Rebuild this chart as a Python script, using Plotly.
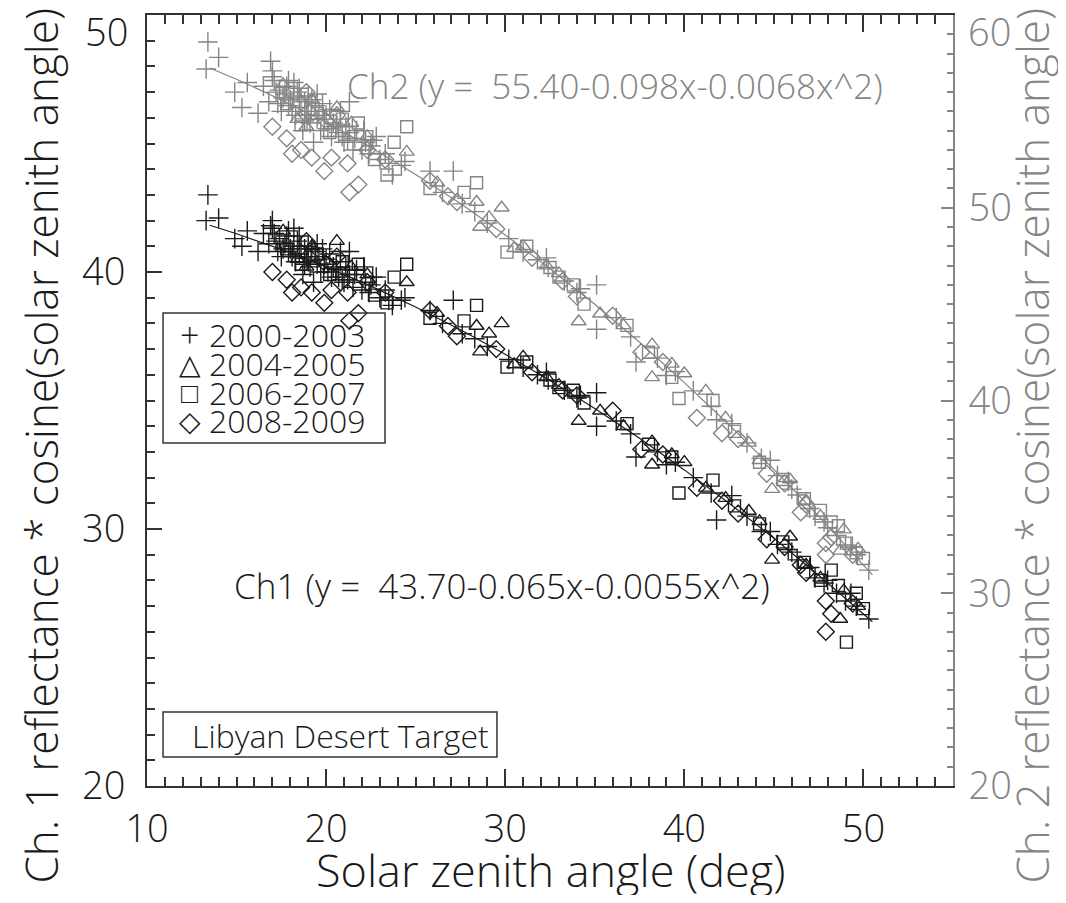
import plotly.graph_objects as go

# ---------------- data ----------------
groups = ["2000-2003", "2004-2005", "2006-2007", "2008-2009"]

# 2000-2003 (+)
A_x = [13.4, 13.3, 14.0, 14.9, 15.6, 15.3, 16.2, 16.5, 17.0, 17.2,
       17.5, 17.8, 18.0, 18.3, 18.6, 18.9, 19.1, 19.4, 19.7, 20.0,
       20.3, 20.6, 21.0, 21.3, 21.3, 22.0, 22.5, 23.0, 24.2, 24.4,
       25.8, 27.1, 26.5, 27.6, 28.3, 29.0, 30.2, 31.0, 31.8, 32.4,
       32.3, 33.3, 34.2, 35.1, 35.1, 36.2, 37.0, 37.3, 38.5, 39.5,
       40.5, 41.5, 42.65, 41.8, 43.5, 44.3, 45.2, 45.8, 46.3, 47.0,
       47.8, 48.5, 49.0, 49.6, 50.3, 48.0, 46.0, 17.0, 16.8, 18.2,
       19.8, 21.5, 22.8, 20.8, 19.3, 23.7, 34.0, 39.0, 44.8, 47.3,
       49.3, 17.4, 17.9, 18.4, 18.8, 19.6, 20.1, 20.9, 21.6, 22.2,
       19.0, 17.6, 18.7, 17.1, 17.3, 17.7, 17.9, 18.1, 18.2, 18.5,
       18.5, 18.8, 19.0, 19.2, 19.5, 19.5, 19.9, 20.2, 20.4, 20.7,
       20.8, 21.1, 21.2, 21.7, 22.1, 22.4, 22.6, 23.3, 23.5, 16.9]
A_ch1 = [43.0, 42.0, 42.1, 41.3, 41.6, 41.0, 40.8, 41.5, 41.7, 41.2,
         40.6, 41.4, 40.9, 40.4, 41.0, 40.6, 40.2, 40.8, 40.0, 40.5,
         39.8, 40.1, 39.6, 39.9, 40.8, 39.3, 39.5, 39.0, 38.9, 39.0,
         38.5, 38.9, 38.0, 37.6, 37.4, 37.1, 36.6, 36.3, 36.0, 35.8,
         36.1, 35.4, 35.2, 35.3, 34.0, 34.2, 33.7, 32.8, 33.0, 32.6,
         32.0, 31.4, 31.3, 30.35, 30.5, 29.9, 29.4, 29.2, 28.8, 28.5,
         27.9, 27.5, 27.2, 27.0, 26.5, 28.0, 29.1, 42.0, 41.1, 41.7,
         40.9, 39.4, 39.8, 40.4, 39.6, 38.7, 35.1, 32.5, 29.9, 28.1,
         27.5, 41.3, 40.8, 41.2, 40.3, 40.6, 40.0, 39.7, 39.9, 39.6,
         41.0, 40.9, 39.9, 41.5, 40.8, 41.1, 41.6, 40.6, 41.0, 40.7,
         41.4, 40.9, 40.4, 40.9, 40.3, 41.1, 40.3, 40.7, 40.2, 39.8,
         40.8, 40.2, 39.7, 40.1, 40.2, 39.2, 39.8, 39.3, 38.9, 41.8]
A_ch2 = [58.6, 57.2, 57.8, 56.0, 56.5, 55.2, 54.9, 56.3, 56.8, 56.0,
         55.0, 56.3, 55.6, 54.8, 55.7, 55.0, 54.4, 55.3, 54.0, 54.8,
         53.7, 54.3, 53.4, 53.9, 55.5, 53.0, 53.2, 52.5, 52.2, 52.4,
         51.9, 51.9, 50.8, 50.2, 49.8, 49.2, 48.4, 47.7, 47.3, 46.9,
         47.4, 46.2, 45.8, 46.0, 43.7, 44.3, 43.3, 42.0, 42.2, 41.5,
         40.5, 39.7, 38.8, 39.0, 37.8, 37.0, 36.1, 35.8, 35.1, 34.4,
         33.7, 33.0, 32.5, 32.0, 31.2, 33.4, 35.4, 57.1, 55.5, 56.5,
         55.4, 53.0, 53.7, 54.6, 53.4, 51.7, 45.6, 41.3, 36.9, 34.0,
         32.4, 56.1, 55.3, 56.0, 54.5, 55.0, 54.1, 53.7, 53.6, 53.4,
         55.8, 55.7, 54.0, 56.6, 55.4, 55.9, 56.6, 55.0, 55.8, 55.2,
         56.2, 55.5, 54.8, 55.6, 54.6, 55.9, 54.6, 55.1, 54.4, 53.9,
         55.0, 54.2, 53.5, 54.0, 54.0, 52.8, 53.5, 52.8, 52.3, 57.6]

# 2004-2005 (triangles)
B_x = [17.6, 18.4, 19.2, 20.6, 21.4, 22.3, 24.5, 26.2, 28.4, 29.1,
       29.8, 28.6, 31.0, 32.3, 33.0, 34.1, 35.3, 36.6, 38.2, 38.2,
       40.0, 41.2, 42.3, 43.6, 44.9, 45.9, 46.8, 47.6, 48.7, 48.9,
       49.7, 39.3, 44.2, 18.9, 30.5]
B_ch1 = [41.6, 40.5, 41.0, 41.2, 40.2, 39.9, 39.6, 38.4, 37.9, 37.6,
         38.0, 36.9, 36.7, 35.9, 35.6, 34.2, 34.6, 34.0, 33.4, 32.5,
         32.6, 31.6, 31.2, 30.7, 28.8, 29.7, 28.6, 28.1, 26.5, 27.6,
         27.0, 32.9, 30.3, 40.2, 36.4]
B_ch2 = [56.4, 54.6, 55.6, 55.2, 54.4, 53.7, 52.9, 51.3, 50.3, 49.5,
         50.0, 49.0, 48.0, 47.0, 46.6, 44.1, 44.5, 43.9, 42.9, 41.2,
         41.4, 40.5, 39.1, 37.8, 35.4, 35.9, 34.8, 34.0, 32.2, 33.3,
         32.3, 41.9, 36.9, 54.2, 47.9]

# 2006-2007 (squares)
C_x = [17.8, 18.6, 19.5, 20.2, 20.9, 21.8, 22.7, 23.4, 23.8, 24.5,
       25.8, 27.7, 28.4, 30.1, 31.2, 32.5, 33.0, 33.8, 34.4, 36.8,
       38.0, 39.3, 39.7, 41.6, 42.8, 44.2, 45.5, 46.7, 48.2, 48.6,
       49.05, 49.6, 50.0, 47.6]
C_ch1 = [40.9, 40.3, 40.7, 39.9, 40.4, 40.3, 39.1, 38.8, 39.8, 40.3,
         38.2, 38.1, 38.7, 36.3, 36.5, 35.8, 35.5, 35.4, 34.9, 34.1,
         33.3, 32.8, 31.4, 31.9, 30.9, 30.2, 29.5, 28.7, 28.4, 27.8,
         25.6, 27.5, 26.9, 28.0]
C_ch2 = [55.4, 54.3, 54.9, 53.9, 54.6, 54.4, 52.5, 51.7, 53.4, 54.2,
         51.0, 50.8, 51.3, 47.7, 48.0, 46.9, 46.4, 46.0, 45.0, 43.9,
         42.5, 41.2, 40.1, 40.0, 38.4, 36.8, 35.9, 34.9, 33.7, 33.5,
         32.6, 32.1, 31.8, 34.3]

# 2008-2009 (diamonds)
D_x = [17.0, 17.8, 18.1, 18.6, 19.2, 19.9, 20.3, 21.2, 21.3, 21.8,
       22.3, 18.9, 20.6, 23.3, 25.8, 26.8, 27.3, 29.5, 31.5, 33.2,
       34.0, 36.0, 37.6, 38.8, 40.7, 42.1, 43.0, 44.6, 45.6, 46.5,
       46.8, 47.9, 48.2, 47.9, 49.4, 20.0, 19.0]
D_ch1 = [40.0, 39.7, 39.2, 39.4, 39.2, 38.8, 39.3, 39.2, 38.1, 38.4,
         39.6, 41.2, 40.6, 39.2, 38.5, 37.9, 37.5, 37.0, 36.1, 35.4,
         35.2, 34.6, 33.1, 32.9, 31.6, 31.1, 30.6, 29.6, 29.3, 28.6,
         28.3, 27.2, 26.7, 26.0, 27.1, 40.3, 40.6]
D_ch2 = [54.2, 53.6, 52.8, 53.0, 52.6, 51.9, 52.6, 52.3, 50.8, 51.2,
         53.0, 56.0, 54.8, 52.5, 51.4, 50.6, 50.3, 48.9, 47.4, 46.2,
         45.4, 44.4, 42.5, 42.0, 39.1, 38.3, 38.0, 36.2, 35.7, 34.2,
         34.6, 32.6, 32.9, 32.0, 32.0, 54.5, 55.0]

# fitted curves
fit_x = [13.5, 15, 17.5, 20, 22.5, 25, 27.5, 30, 32.5, 35, 37.5, 40,
         42.5, 45, 47.5, 50, 50.5]
fit_ch1 = [41.82, 41.49, 40.88, 40.2, 39.45, 38.64, 37.75, 36.8, 35.78,
           34.69, 33.53, 32.3, 31.0, 29.64, 28.2, 26.7, 26.39]
fit_ch2 = [57.25, 56.67, 55.6, 54.43, 53.14, 51.73, 50.22, 48.59, 46.84,
           44.99, 43.02, 40.93, 38.74, 36.43, 34.0, 31.47, 30.95]

x_ticks = [10, 20, 30, 40, 50]
y1_ticks = [20, 30, 40, 50]
y2_ticks = [20, 30, 40, 50, 60]
y1_labels = ["20", "30", "40", ""]      # top label drawn just below the frame
y2_labels = ["20", "30", "40", "50", ""]

# ---------------- styling ----------------
FONT = "Open Sans, Noto Sans, DejaVu Sans, sans-serif"
SYMF = "Open Sans, DejaVu Sans, sans-serif"
W = 300
BLACK = "#1a1a1a"
GRAY = "#858585"
symbols = ["cross-thin", "triangle-up-open", "square-open", "diamond-open"]
sizes = [14, 13, 12, 13]
legend_glyphs = ["+", "\u25B3", "\u25A1", "\u25C7"]
legend_glyph_sizes = [34, 28, 28, 28]

data_sets = [(A_x, A_ch1, A_ch2), (B_x, B_ch1, B_ch2),
             (C_x, C_ch1, C_ch2), (D_x, D_ch1, D_ch2)]


def f(size, color=BLACK, family=FONT, weight=W):
    return dict(size=size, color=color, family=family, weight=weight)


fig = go.Figure()

for (gx, g1, g2), sym, sz, name in zip(data_sets, symbols, sizes, groups):
    fig.add_trace(go.Scatter(
        x=gx, y=g2, mode="markers", name=name + " Ch2", yaxis="y2",
        marker=dict(symbol=sym, size=sz, color=GRAY,
                    line=dict(color=GRAY, width=1.4)),
        showlegend=False))

for (gx, g1, g2), sym, sz, name in zip(data_sets, symbols, sizes, groups):
    fig.add_trace(go.Scatter(
        x=gx, y=g1, mode="markers", name=name + " Ch1",
        marker=dict(symbol=sym, size=sz, color=BLACK,
                    line=dict(color=BLACK, width=1.4)),
        showlegend=False))

fig.add_trace(go.Scatter(x=fit_x, y=fit_ch2, mode="lines", yaxis="y2",
                         line=dict(color=GRAY, width=1.2), showlegend=False))
fig.add_trace(go.Scatter(x=fit_x, y=fit_ch1, mode="lines",
                         line=dict(color=BLACK, width=1.2), showlegend=False))

axis_common = dict(showgrid=False, zeroline=False, showline=True,
                   ticks="inside", tickwidth=1.5, ticklabeloverflow="allow",
                   automargin=False)

# the page adds an 8 px body margin, so the figure is 16 px smaller
fig.update_layout(
    width=1050, height=887,
    margin=dict(l=139, r=105, t=7, b=109),
    paper_bgcolor="white", plot_bgcolor="white",
    showlegend=False,
    font=f(38),
    xaxis=dict(range=[10, 55], tickmode="array", tickvals=x_ticks,
               ticktext=[str(v) for v in x_ticks],
               ticklen=17, linewidth=2, linecolor="#333", tickcolor="#333",
               mirror="ticks", ticklabelstandoff=8,
               minor=dict(dtick=1, tick0=10, ticks="inside", ticklen=9,
                          tickwidth=1.5, tickcolor="#333", showgrid=False),
               tickfont=f(38), **axis_common),
    yaxis=dict(range=[20, 50], tickmode="array", tickvals=y1_ticks,
               ticktext=y1_labels,
               ticklen=15, linewidth=2, linecolor="#333", tickcolor="#333",
               ticklabelstandoff=12,
               minor=dict(dtick=1, tick0=20, ticks="inside", ticklen=8,
                          tickwidth=1.5, tickcolor="#333", showgrid=False),
               tickfont=f(38), **axis_common),
    yaxis2=dict(range=[20, 60], overlaying="y", side="right",
                tickmode="array", tickvals=y2_ticks,
                ticktext=y2_labels,
                ticklen=12, linewidth=2, linecolor=GRAY, tickcolor=GRAY,
                ticklabelstandoff=6,
                minor=dict(dtick=1, tick0=20, ticks="inside", ticklen=6,
                           tickwidth=1.5, tickcolor=GRAY, showgrid=False),
                tickfont=f(38, GRAY), **axis_common),
)

P = dict(xref="paper", yref="paper", showarrow=False, yanchor="middle")
ann = []
# top tick labels (shifted just under the frame, as in the original)
ann.append(dict(text=str(y1_ticks[-1]), x=-0.0211, y=0.9793,
                xanchor="right", font=f(38), **P))
ann.append(dict(text=str(y2_ticks[-1]), x=1.0161, y=0.9793,
                xanchor="left", font=f(38, GRAY), **P))
# axis titles
ann.append(dict(text="Solar zenith angle (deg)", x=0.501, y=-0.108,
                xanchor="center", font=f(45), **P))
ann.append(dict(text="Ch. 1 reflectance * cosine(solar zenith angle)",
                x=-0.1315, y=0.4415, textangle=-90, xanchor="center",
                font=f(44), **P))
ann.append(dict(text="Ch. 2 reflectance * cosine(solar zenith angle)",
                x=1.098, y=0.4415, textangle=-90, xanchor="center",
                font=f(44, GRAY), **P))
# equations
ann.append(dict(text="Ch2 (y =  55.40-0.098x-0.0068x^2)", x=0.2457,
                y=0.9092, xanchor="left", font=f(35, GRAY), **P))
ann.append(dict(text="Ch1 (y =  43.70-0.065x-0.0055x^2)", x=0.7754,
                y=0.2607, xanchor="right", font=f(35), **P))
# legend
row_y = [0.5850, 0.5486, 0.5110, 0.4747]
for g, gl, gs, ry in zip(groups, legend_glyphs, legend_glyph_sizes, row_y):
    ann.append(dict(text=gl, x=0.0533, y=ry, xanchor="center",
                    font=f(gs, BLACK, SYMF, 300), **P))
    ann.append(dict(text=g, x=0.0744, y=ry, xanchor="left",
                    font=f(32), **P))
ann.append(dict(text="Libyan Desert Target", x=0.0533, y=0.0661,
                xanchor="left", font=f(32), **P))

shapes = [
    dict(type="rect", xref="paper", yref="paper", x0=0.0199, x1=0.2953,
         y0=0.4449, y1=0.6135, line=dict(color="#333", width=1.5)),
    dict(type="rect", xref="paper", yref="paper", x0=0.0199, x1=0.4342,
         y0=0.0376, y1=0.0960, line=dict(color="#333", width=1.5)),
]
fig.update_layout(annotations=ann, shapes=shapes)

fig.write_html("out.html")
